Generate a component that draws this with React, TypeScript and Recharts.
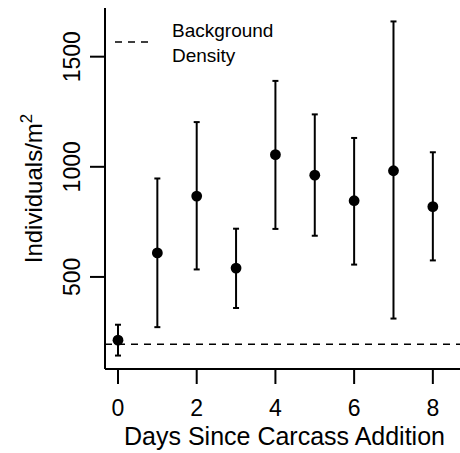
import {
  ComposedChart, Scatter, ErrorBar, XAxis, YAxis, ReferenceLine, Legend,
} from "recharts";

// Days since carcass addition, mean density and the ends of each error bar
const days = [0, 1, 2, 3, 4, 5, 6, 7, 8];
const meanDensity = [213, 609, 867, 540, 1055, 962, 846, 982, 819];
const upperDensity = [283, 947, 1203, 719, 1390, 1238, 1131, 1660, 1066];
const lowerDensity = [143, 272, 534, 359, 718, 687, 556, 311, 575];
const backgroundDensity = 194;

const xTicks = [0, 2, 4, 6, 8];
const yTicks = [500, 1000, 1500];

const FONT = "Arial, 'Liberation Sans', Helvetica, sans-serif";

const data = days.map((d, i) => ({
  day: d,
  mean: meanDensity[i],
  err: [meanDensity[i] - lowerDensity[i], upperDensity[i] - meanDensity[i]],
}));

function YTick({ x, y, payload }: any) {
  return (
    <text
      transform={`translate(${x}, ${y}) rotate(-90)`}
      textAnchor="middle"
      fontSize={23}
      fontFamily={FONT}
      fill="#000"
    >
      {payload.value}
    </text>
  );
}

function XTick({ x, y, payload }: any) {
  return (
    <text x={x} y={y} dy="0.71em" textAnchor="middle" fontSize={23} fontFamily={FONT} fill="#000">
      {payload.value}
    </text>
  );
}

function Dot({ cx, cy }: any) {
  return <circle cx={cx} cy={cy} r={5.4} fill="#000" />;
}

function LegendBox() {
  return (
    <div style={{ position: "relative", width: 180, height: 56, fontFamily: FONT, fontSize: 19 }}>
      <svg width={40} height={56} style={{ position: "absolute", left: 0, top: 0 }}>
        <line x1={0} y1={24} x2={33} y2={24} stroke="#000" strokeWidth={1.5} strokeDasharray="7 6" />
      </svg>
      <div style={{ position: "absolute", left: 57, top: 0, lineHeight: "25px", color: "#000" }}>
        Background
        <br />
        Density
      </div>
    </div>
  );
}

export default function App() {
  return (
    <div style={{ position: "absolute", left: 0, top: 0, background: "#fff" }}>
      <ComposedChart
        width={460}
        height={453}
        data={data}
        margin={{ top: 8, right: 0, bottom: 83, left: 104 }}
      >
        <XAxis
          type="number"
          dataKey="day"
          domain={[-0.33, 8.69]}
          ticks={xTicks}
          allowDataOverflow
          height={1}
          tickSize={15}
          tickMargin={16}
          tick={<XTick />}
          axisLine={{ stroke: "#000", strokeWidth: 2 }}
          tickLine={{ stroke: "#000", strokeWidth: 2 }}
          label={({ viewBox }: any) => (
            <text
              x={viewBox.x + viewBox.width / 2 + 2}
              y={viewBox.y + 76}
              textAnchor="middle"
              fontSize={25}
              fontFamily={FONT}
              fill="#000"
            >
              Days Since Carcass Addition
            </text>
          )}
        />
        <YAxis
          type="number"
          dataKey="mean"
          domain={[82, 1721]}
          ticks={yTicks}
          allowDataOverflow
          width={1}
          tickSize={15}
          tickMargin={10}
          tick={<YTick />}
          axisLine={{ stroke: "#000", strokeWidth: 2 }}
          tickLine={{ stroke: "#000", strokeWidth: 2 }}
          label={({ viewBox }: any) => (
            <text
              transform={`translate(${viewBox.x + viewBox.width - 63}, ${viewBox.y + viewBox.height / 2}) rotate(-90)`}
              textAnchor="middle"
              fontSize={24}
              fontFamily={FONT}
              fill="#000"
            >
              Individuals/m<tspan fontSize={17} dy={-10}>2</tspan>
            </text>
          )}
        />
        <ReferenceLine
          y={backgroundDensity}
          stroke="#000"
          strokeWidth={1.5}
          strokeDasharray="7 6"
        />
        <Scatter dataKey="mean" shape={<Dot />} isAnimationActive={false}>
          <ErrorBar
            dataKey="err"
            direction="y"
            width={3}
            stroke="#000"
            strokeWidth={2}
            isAnimationActive={false}
          />
        </Scatter>
        <Legend
          layout="vertical"
          align="center"
          verticalAlign="middle"
          content={<LegendBox />}
          wrapperStyle={{ position: "absolute", left: 115, top: 18, width: 180 }}
        />
      </ComposedChart>
    </div>
  );
}
